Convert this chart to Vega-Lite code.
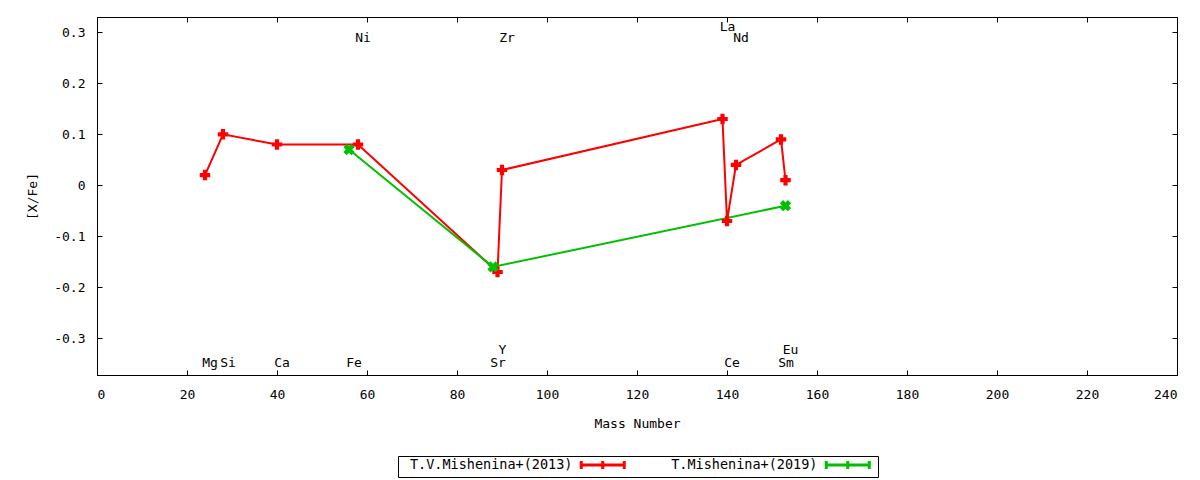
{
  "$schema": "https://vega.github.io/schema/vega-lite/v6.json",
  "width": 1080,
  "height": 358,
  "autosize": {"type": "none"},
  "padding": {"left": 97, "top": 17, "right": 23, "bottom": 105},
  "background": "white",
  "config": {
    "font": "DejaVu Sans Mono",
    "view": {"stroke": "black", "strokeWidth": 1},
    "axis": {
      "grid": false,
      "domainColor": "black",
      "tickColor": "black",
      "labelColor": "black",
      "titleColor": "black",
      "labelFont": "DejaVu Sans Mono",
      "titleFont": "DejaVu Sans Mono",
      "labelFontSize": 13,
      "titleFontSize": 13,
      "titleFontWeight": "normal",
      "tickSize": -5
    }
  },
  "datasets": {
    "abund": [
      {"series": "T.V.Mishenina+(2013)", "el": "Mg", "A": 24, "XFe": 0.02},
      {"series": "T.V.Mishenina+(2013)", "el": "Si", "A": 28, "XFe": 0.10},
      {"series": "T.V.Mishenina+(2013)", "el": "Ca", "A": 40, "XFe": 0.08},
      {"series": "T.V.Mishenina+(2013)", "el": "Ni", "A": 58, "XFe": 0.08},
      {"series": "T.V.Mishenina+(2013)", "el": "Y", "A": 89, "XFe": -0.17},
      {"series": "T.V.Mishenina+(2013)", "el": "Zr", "A": 90, "XFe": 0.03},
      {"series": "T.V.Mishenina+(2013)", "el": "La", "A": 139, "XFe": 0.13},
      {"series": "T.V.Mishenina+(2013)", "el": "Ce", "A": 140, "XFe": -0.07},
      {"series": "T.V.Mishenina+(2013)", "el": "Nd", "A": 142, "XFe": 0.04},
      {"series": "T.V.Mishenina+(2013)", "el": "Sm", "A": 152, "XFe": 0.09},
      {"series": "T.V.Mishenina+(2013)", "el": "Eu", "A": 153, "XFe": 0.01},
      {"series": "T.Mishenina+(2019)", "el": "Fe", "A": 56, "XFe": 0.07},
      {"series": "T.Mishenina+(2019)", "el": "Sr", "A": 88, "XFe": -0.16},
      {"series": "T.Mishenina+(2019)", "el": "Eu", "A": 153, "XFe": -0.04}
    ],
    "labels": [
      {"el": "Mg", "A": 24, "ly": -0.349},
      {"el": "Si", "A": 28, "ly": -0.349},
      {"el": "Ca", "A": 40, "ly": -0.349},
      {"el": "Fe", "A": 56, "ly": -0.349},
      {"el": "Ni", "A": 58, "ly": 0.288},
      {"el": "Sr", "A": 88, "ly": -0.349},
      {"el": "Y", "A": 89, "ly": -0.322},
      {"el": "Zr", "A": 90, "ly": 0.288},
      {"el": "La", "A": 139, "ly": 0.31},
      {"el": "Ce", "A": 140, "ly": -0.349},
      {"el": "Nd", "A": 142, "ly": 0.288},
      {"el": "Sm", "A": 152, "ly": -0.349},
      {"el": "Eu", "A": 153, "ly": -0.322}
    ]
  },
  "layer": [
    {
      "data": {"name": "abund"},
      "encoding": {
        "x": {
          "field": "A",
          "type": "quantitative",
          "scale": {"domain": [0, 240], "nice": false, "zero": false},
          "axis": {
            "orient": "bottom",
            "values": [0, 20, 40, 60, 80, 100, 120, 140, 160, 180, 200, 220, 240],
            "title": "Mass Number",
            "labelPadding": 18,
            "titlePadding": 16
          }
        },
        "y": {
          "field": "XFe",
          "type": "quantitative",
          "scale": {"domain": [-0.372, 0.33], "nice": false, "zero": false},
          "axis": {
            "orient": "left",
            "values": [-0.3, -0.2, -0.1, 0, 0.1, 0.2, 0.3],
            "labelExpr": "datum.value == 0 ? '0' : (datum.value < 0 ? '-' + format(-datum.value, '.1f') : format(datum.value, '.1f'))",
            "title": "[X/Fe]",
            "labelPadding": 17,
            "titlePadding": 14
          }
        }
      },
      "layer": [
        {
          "mark": {"type": "line", "strokeWidth": 2},
          "encoding": {
            "color": {
              "field": "series",
              "type": "nominal",
              "sort": ["T.V.Mishenina+(2013)", "T.Mishenina+(2019)"],
              "scale": {
                "domain": ["T.V.Mishenina+(2013)", "T.Mishenina+(2019)"],
                "range": ["#ff0000", "#00c000"]
              },
              "legend": {
                "orient": "none",
                "legendX": 301,
                "legendY": 439,
                "direction": "horizontal",
                "title": null,
                "symbolType": "M-4.3,0H4.3M-4.3,-0.8V0.8M4.3,-0.8V0.8M0,-0.8V0.8",
                "symbolSize": 100,
                "symbolStrokeWidth": 3,
                "symbolOffset": 196,
                "labelAlign": "right",
                "labelBaseline": "middle",
                "labelOffset": -37,
                "labelFont": "DejaVu Sans Mono",
                "labelFontSize": 13.5,
                "labelColor": "black",
                "labelLimit": 400,
                "rowPadding": 0,
                "strokeColor": "black",
                "fillColor": "white",
                "padding": 2,
                "columnPadding": 14
              }
            }
          }
        },
        {
          "transform": [{"filter": "datum.series == 'T.V.Mishenina+(2013)'"}],
          "mark": {"type": "point", "shape": "cross", "filled": true, "size": 110, "color": "#ff0000", "opacity": 1}
        },
        {
          "transform": [{"filter": "datum.series == 'T.Mishenina+(2019)'"}],
          "mark": {"type": "point", "shape": "cross", "angle": 45, "filled": true, "size": 130, "color": "#00c000", "opacity": 1}
        }
      ]
    },
    {
      "data": {"name": "labels"},
      "mark": {"type": "text", "dx": 5, "baseline": "middle", "align": "center", "fontSize": 13, "font": "DejaVu Sans Mono", "color": "black"},
      "encoding": {
        "x": {
          "field": "A",
          "type": "quantitative",
          "scale": {"domain": [0, 240], "nice": false, "zero": false},
          "axis": {
            "orient": "top",
            "values": [0, 20, 40, 60, 80, 100, 120, 140, 160, 180, 200, 220, 240],
            "labels": false,
            "title": null
          }
        },
        "y": {
          "field": "ly",
          "type": "quantitative",
          "scale": {"domain": [-0.372, 0.33], "nice": false, "zero": false},
          "axis": {
            "orient": "right",
            "values": [-0.3, -0.2, -0.1, 0, 0.1, 0.2, 0.3],
            "labels": false,
            "title": null
          }
        },
        "text": {"field": "el"}
      }
    }
  ],
  "resolve": {
    "scale": {"x": "independent", "y": "independent"},
    "axis": {"x": "independent", "y": "independent"}
  }
}
